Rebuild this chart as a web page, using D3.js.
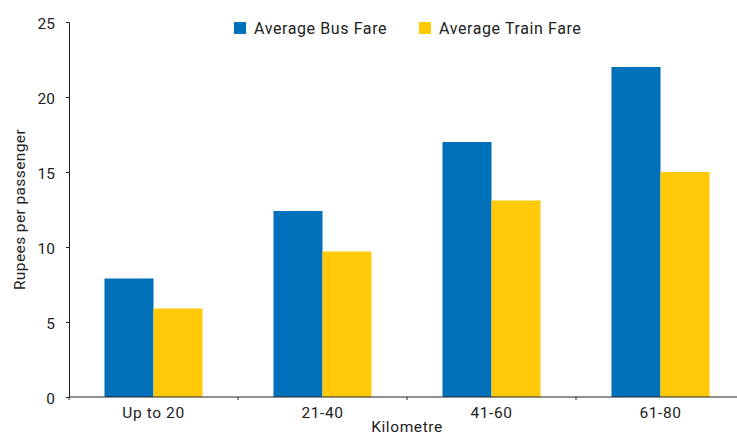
<!DOCTYPE html>
<html><head><meta charset="utf-8">
<script src="https://cdn.jsdelivr.net/npm/d3@7/dist/d3.min.js"></script>
<style>
body{margin:0;background:#fff;}
svg{display:block;font-family:Roboto, "DejaVu Sans", sans-serif;}
</style></head>
<body><svg id="c" width="737" height="436"></svg>
<script>
const categories = ["Up to 20", "21-40", "41-60", "61-80"];
const seriesNames = ["Average Bus Fare", "Average Train Fare"];
const busFare = [7.9, 12.4, 17.0, 22.0];
const trainFare = [5.9, 9.7, 13.1, 15.0];
const yTicks = [0, 5, 10, 15, 20, 25];
const colors = ["#0070BA", "#FFC907"];

(function () {
const svg = d3.select("#c");
const mLeft = 69, mRight = 745, mTop = 22, mBottom = 397;
const fs = 15.5, ls = "0.6px", ink = "#222";

const x0 = d3.scaleBand().domain(categories).range([mLeft, mRight]).paddingInner(0.42).paddingOuter(0.21);
const x1 = d3.scaleBand().domain(seriesNames).range([0, x0.bandwidth()]);
const y = d3.scaleLinear().domain([0, 25]).range([mBottom, mTop]);

const data = categories.map((c, i) => ({cat: c, vals: [busFare[i], trainFare[i]]}));

svg.append("g").selectAll("g.grp").data(data).join("g").attr("class", "grp")
  .attr("transform", d => `translate(${x0(d.cat)},0)`)
  .selectAll("rect").data(d => d.vals.map((v, j) => ({name: seriesNames[j], v, j})))
  .join("rect")
  .attr("x", d => x1(d.name))
  .attr("width", x1.bandwidth())
  .attr("y", d => y(d.v))
  .attr("height", d => y(0) - y(d.v))
  .attr("fill", d => colors[d.j]);

// Y axis
const ya = svg.append("g").attr("transform", `translate(${mLeft},0)`)
  .call(d3.axisLeft(y).tickValues(yTicks).tickSize(3).tickPadding(11));
ya.select(".domain").attr("stroke", ink);
ya.selectAll(".tick line").attr("stroke", ink);
ya.selectAll("text").attr("font-size", fs).attr("fill", ink).attr("dy", "0.45em")
  .attr("font-family", "Roboto, sans-serif");

// X axis with ticks at band boundaries
const xa = svg.append("g").attr("transform", `translate(0,${mBottom})`);
xa.append("line").attr("x1", mLeft).attr("x2", mRight).attr("y1", 0).attr("y2", 0).attr("stroke", ink);
const step = x0.step();
const bounds = categories.map(c => x0(c) - step * 0.21);
bounds.push(mRight);
xa.selectAll("line.tk").data(bounds).join("line").attr("class", "tk")
  .attr("x1", d => d).attr("x2", d => d).attr("y1", 0).attr("y2", 3).attr("stroke", ink);
xa.selectAll("text").data(categories).join("text")
  .attr("x", d => x0(d) + x0.bandwidth() / 2)
  .attr("y", 21)
  .attr("text-anchor", "middle")
  .attr("font-size", fs).attr("letter-spacing", ls).attr("fill", ink)
  .text(d => d);

// Axis titles
svg.append("text").attr("x", (mLeft + mRight) / 2).attr("y", 432)
  .attr("text-anchor", "middle").attr("font-size", fs).attr("letter-spacing", ls).attr("fill", ink).text("Kilometre");
svg.append("text").attr("transform", `translate(25,${(mTop + mBottom) / 2}) rotate(-90)`)
  .attr("text-anchor", "middle").attr("font-size", fs).attr("letter-spacing", "0.4px").attr("fill", ink).text("Rupees per passenger");

// Legend
const legX = [234, 419];
const lg = svg.selectAll("g.leg").data(seriesNames).join("g").attr("class", "leg")
  .attr("transform", (d, i) => `translate(${legX[i]},22)`);
lg.append("rect").attr("width", 12).attr("height", 12).attr("fill", (d, i) => colors[i]);
lg.append("text").attr("x", 20).attr("y", 11.5).attr("font-size", 16).attr("letter-spacing", "0.6px").attr("fill", ink).text(d => d);
})();
</script></body></html>
